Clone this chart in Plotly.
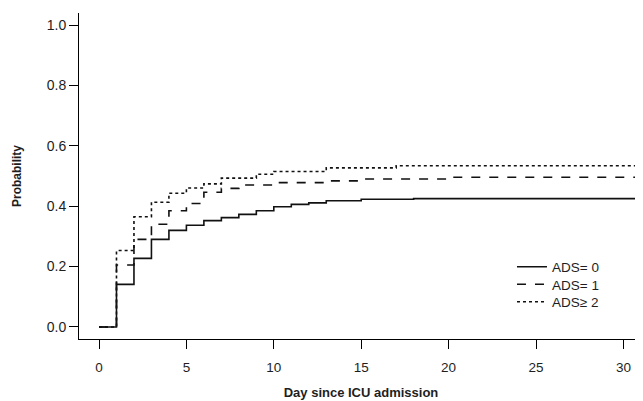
import plotly.graph_objects as go

# Step-function cumulative probabilities
days_ads0 = [0, 1, 2, 3, 4, 5, 6, 7, 8, 9, 10, 11, 12, 13, 15, 18, 31.5]
prob_ads0 = [0, 0.141, 0.227, 0.290, 0.320, 0.337, 0.352, 0.362, 0.373, 0.385,
             0.398, 0.406, 0.411, 0.418, 0.423, 0.425, 0.425]

days_ads1 = [0, 1, 2, 3, 4, 5, 6, 7, 8, 10, 13, 15, 20, 31.5]
prob_ads1 = [0, 0.205, 0.290, 0.340, 0.385, 0.409, 0.446, 0.459, 0.470, 0.478,
             0.484, 0.490, 0.496, 0.496]

days_ads2 = [0, 1, 2, 3, 4, 5, 6, 7, 9, 10, 13, 17, 31.5]
prob_ads2 = [0, 0.253, 0.365, 0.413, 0.443, 0.460, 0.474, 0.493, 0.506, 0.515,
             0.527, 0.534, 0.534]

series_names = ["ADS= 0", "ADS= 1", "ADS\u2265 2"]
x_ticks = [0, 5, 10, 15, 20, 25, 30]
y_ticks = [0.0, 0.2, 0.4, 0.6, 0.8, 1.0]
y_tick_labels = ["0.0", "0.2", "0.4", "0.6", "0.8", "1.0"]

FONT = "Liberation Sans, Arial, sans-serif"
LINE_COLOR = "#111111"
TEXT_COLOR = "#1e1e1e"

fig = go.Figure()
legend_ids = ["legend", "legend2", "legend3"]
for xs, ys, name, dash, lg in [
    (days_ads0, prob_ads0, series_names[0], "solid", legend_ids[0]),
    (days_ads1, prob_ads1, series_names[1], "dash", legend_ids[1]),
    (days_ads2, prob_ads2, series_names[2], "dot", legend_ids[2]),
]:
    fig.add_trace(go.Scatter(
        x=xs, y=ys, mode="lines", name=name, legend=lg,
        line=dict(shape="hv", color=LINE_COLOR, width=1.6, dash=dash),
    ))

def legend_box(ypos):
    return dict(
        x=0.7677, y=ypos, xanchor="left", yanchor="middle",
        bgcolor="rgba(0,0,0,0)", borderwidth=0,
        font=dict(family=FONT, size=13.5, color=TEXT_COLOR),
        itemwidth=30,
    )

# the page body adds an 8px offset, so margins are shifted to compensate
fig.update_layout(
    width=643, height=401,
    margin=dict(l=71, r=8, t=5, b=70, autoexpand=False),
    plot_bgcolor="white", paper_bgcolor="white",
    font=dict(family=FONT, size=13.5, color=TEXT_COLOR),
    showlegend=True,
    legend=legend_box(0.2209),
    legend2=legend_box(0.1672),
    legend3=legend_box(0.1135),
)

fig.update_xaxes(
    range=[-1.144, 31.12], tickvals=x_ticks, automargin=False,
    showline=True, linecolor="black", linewidth=1,
    ticks="outside", ticklen=9, tickcolor="black", tickwidth=1,
    ticklabelstandoff=7,
    showgrid=False, zeroline=False,
    tickfont=dict(family=FONT, size=13.5, color=TEXT_COLOR),
    title=dict(text="<b>Day since ICU admission</b>", standoff=13,
               font=dict(family=FONT, size=13, color=TEXT_COLOR)),
)
fig.update_yaxes(
    range=[-0.04, 1.04], tickvals=y_ticks, ticktext=y_tick_labels, automargin=False,
    showline=True, linecolor="black", linewidth=1,
    ticks="outside", ticklen=9, tickcolor="black", tickwidth=1,
    ticklabelstandoff=0,
    showgrid=False, zeroline=False,
    tickfont=dict(family=FONT, size=14, color=TEXT_COLOR),
    title=dict(text="<b>Probability</b>", standoff=22,
               font=dict(family=FONT, size=12, color=TEXT_COLOR)),
)

fig.write_html("out.html")
